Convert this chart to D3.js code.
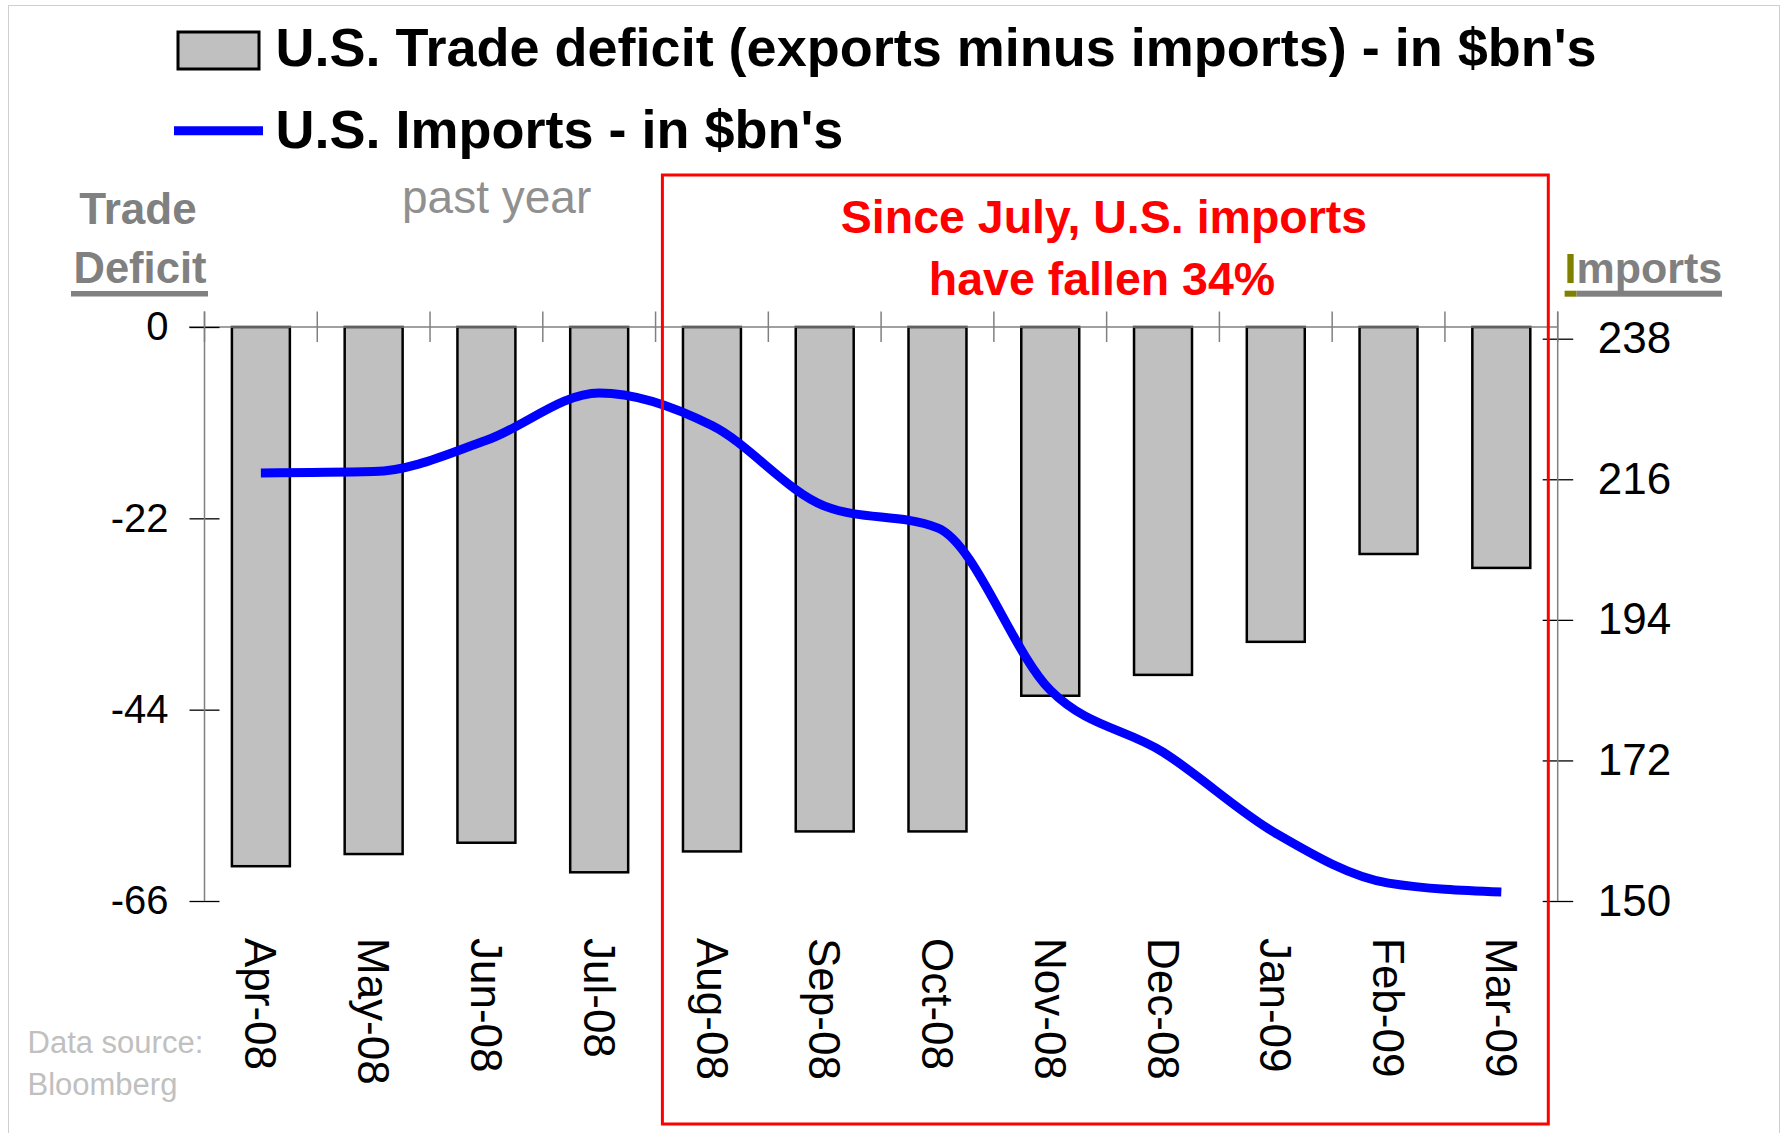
<!DOCTYPE html>
<html>
<head>
<meta charset="utf-8">
<script src="https://cdn.jsdelivr.net/npm/d3@7"></script>
<style>
  body { margin: 0; background: #fff; }
  svg { display: block; font-family: "Liberation Sans", Arial, sans-serif; }
</style>
</head>
<body>
<svg id="chart" width="1781" height="1133"></svg>
<script>
// values
var months = ["Apr-08", "May-08", "Jun-08", "Jul-08", "Aug-08", "Sep-08",
              "Oct-08", "Nov-08", "Dec-08", "Jan-09", "Feb-09", "Mar-09"];
var deficit = [-62.0, -60.6, -59.3, -62.7, -60.3, -58.0, -58.0, -42.4, -40.0, -36.2, -26.1, -27.7];
var imports = [217.0, 217.2, 222.1, 229.5, 224.4, 211.8, 208.4, 183.0, 173.3, 160.6, 152.8, 151.4];
var left_ticks = [0, -22, -44, -66];
var right_ticks = [238, 216, 194, 172, 150];

var svg = d3.select("#chart");

// outer frame
svg.append("rect")
    .attr("x", 8.5).attr("y", 5.5)
    .attr("width", 1771).attr("height", 1150)
    .attr("fill", "none").attr("stroke", "#cfcfcf").attr("stroke-width", 1);

var x = d3.scaleBand().domain(months).range([204.5, 1557.7])
    .paddingInner(0.486).paddingOuter(0.243);
var y_left = d3.scaleLinear().domain([-66, 0]).range([901, 327]);
var y_right = d3.scaleLinear().domain([150, 238]).range([901, 338.7]);

function center(m) { return x(m) + x.bandwidth() / 2; }
function plain(d) { return String(d); }  // keep the hyphen minus

// bars hang down from zero
svg.append("g").attr("class", "bars")
    .selectAll("rect")
    .data(months)
    .enter()
    .append("rect")
    .attr("x", function (m) { return x(m); })
    .attr("y", y_left(0))
    .attr("width", x.bandwidth())
    .attr("height", function (m, i) { return y_left(deficit[i]) - y_left(0); })
    .attr("fill", "#c0c0c0")
    .attr("stroke", "#000")
    .attr("stroke-width", 2.5);

// category axis along the zero line
var x0 = x.range()[0], x1 = x.range()[1];
var cat = svg.append("g").attr("class", "cat-axis");
cat.append("line")
    .attr("x1", 189).attr("x2", x1)
    .attr("y1", y_left(0)).attr("y2", y_left(0))
    .attr("stroke", "#808080").attr("stroke-width", 1.5);
cat.selectAll("line.tick")
    .data(d3.range(months.length + 1))
    .enter()
    .append("line")
    .attr("class", "tick")
    .attr("x1", function (k) { return x0 + k * x.step(); })
    .attr("x2", function (k) { return x0 + k * x.step(); })
    .attr("y1", y_left(0) - 15.5).attr("y2", y_left(0) + 15)
    .attr("stroke", "#808080").attr("stroke-width", 1.5);
cat.selectAll("text")
    .data(months)
    .enter()
    .append("text")
    .attr("transform", function (m) { return "translate(" + center(m) + ",938) rotate(90)"; })
    .attr("dy", "0.35em")
    .attr("font-size", 44)
    .attr("fill", "#000")
    .text(function (m) { return m; });

// left axis
var left_axis = svg.append("g")
    .attr("transform", "translate(" + x0 + ",0)")
    .call(d3.axisLeft(y_left).tickValues(left_ticks).tickFormat(plain)
        .tickSizeOuter(0).tickSizeInner(15));
left_axis.select(".domain").remove();
left_axis.selectAll(".tick line").attr("x1", -15).attr("x2", 15).attr("stroke", "#000").attr("stroke-width", 1.3);
left_axis.selectAll(".tick text")
    .attr("x", -36).attr("font-size", 40).attr("font-family", null).attr("fill", "#000");
left_axis.append("line")
    .attr("x1", 0).attr("x2", 0).attr("y1", 311.5).attr("y2", 901)
    .attr("stroke", "#808080").attr("stroke-width", 1.5);

// imports line
var line = d3.line()
    .x(function (d, i) { return center(months[i]); })
    .y(function (d) { return y_right(d); })
    .curve(d3.curveMonotoneX);
svg.append("path")
    .datum(imports)
    .attr("d", line)
    .attr("fill", "none")
    .attr("stroke", "#0000ff")
    .attr("stroke-width", 9);

// right axis
var right_axis = svg.append("g")
    .attr("transform", "translate(" + x1 + ",0)")
    .call(d3.axisRight(y_right).tickValues(right_ticks).tickFormat(plain)
        .tickSizeOuter(0).tickSizeInner(15));
right_axis.select(".domain").remove();
right_axis.selectAll(".tick line").attr("x1", -15).attr("x2", 15.5).attr("stroke", "#000").attr("stroke-width", 1.3);
right_axis.selectAll(".tick text")
    .attr("x", 40).attr("font-size", 44).attr("font-family", null).attr("fill", "#000");
right_axis.append("line")
    .attr("x1", 0).attr("x2", 0).attr("y1", 311.5).attr("y2", 901)
    .attr("stroke", "#808080").attr("stroke-width", 1.5);

// legend
svg.append("rect")
    .attr("x", 178).attr("y", 32).attr("width", 81).attr("height", 37)
    .attr("fill", "#c0c0c0").attr("stroke", "#000").attr("stroke-width", 3);
svg.append("text")
    .attr("x", 275.5).attr("y", 65.7)
    .attr("font-size", 54).attr("font-weight", "bold")
    .text("U.S. Trade deficit (exports minus imports) - in $bn's");
svg.append("line")
    .attr("x1", 174).attr("x2", 263).attr("y1", 130.7).attr("y2", 130.7)
    .attr("stroke", "#0000ff").attr("stroke-width", 9);
svg.append("text")
    .attr("x", 275.5).attr("y", 147.7)
    .attr("font-size", 54).attr("font-weight", "bold")
    .text("U.S. Imports - in $bn's");

// axis titles
svg.append("text")
    .attr("x", 138).attr("y", 224).attr("text-anchor", "middle")
    .attr("font-size", 44).attr("font-weight", "bold").attr("fill", "#808080")
    .text("Trade");
svg.append("text")
    .attr("x", 140).attr("y", 282.7).attr("text-anchor", "middle")
    .attr("font-size", 43.5).attr("font-weight", "bold").attr("fill", "#808080")
    .text("Deficit");
svg.append("rect")
    .attr("x", 71).attr("y", 291).attr("width", 137).attr("height", 5.5)
    .attr("fill", "#808080");

var imp = svg.append("text")
    .attr("x", 1564.6).attr("y", 283.3)
    .attr("font-size", 43).attr("font-weight", "bold").attr("fill", "#808080");
imp.append("tspan").attr("fill", "#808000").text("I");
imp.append("tspan").text("mports");
svg.append("rect")
    .attr("x", 1564.6).attr("y", 290.7).attr("width", 12).attr("height", 6)
    .attr("fill", "#808000");
svg.append("rect")
    .attr("x", 1576.6).attr("y", 290.7).attr("width", 145.4).attr("height", 6)
    .attr("fill", "#808080");

svg.append("text")
    .attr("x", 402).attr("y", 213)
    .attr("font-size", 46).attr("fill", "#909090")
    .text("past year");

// annotation box
svg.append("rect")
    .attr("x", 662.4).attr("y", 175).attr("width", 885.9).attr("height", 949)
    .attr("fill", "none").attr("stroke", "#ff0000").attr("stroke-width", 3);
svg.append("text")
    .attr("x", 1104).attr("y", 232.7).attr("text-anchor", "middle")
    .attr("font-size", 46.5).attr("font-weight", "bold").attr("fill", "#ff0000")
    .text("Since July, U.S. imports");
svg.append("text")
    .attr("x", 1102).attr("y", 295).attr("text-anchor", "middle")
    .attr("font-size", 46.5).attr("font-weight", "bold").attr("fill", "#ff0000")
    .text("have fallen 34%");

// source
svg.append("text")
    .attr("x", 27.5).attr("y", 1052.7)
    .attr("font-size", 31).attr("fill", "#c0c0c0")
    .text("Data source:");
svg.append("text")
    .attr("x", 27.5).attr("y", 1095)
    .attr("font-size", 31).attr("fill", "#c0c0c0")
    .text("Bloomberg");
</script>
</body>
</html>
